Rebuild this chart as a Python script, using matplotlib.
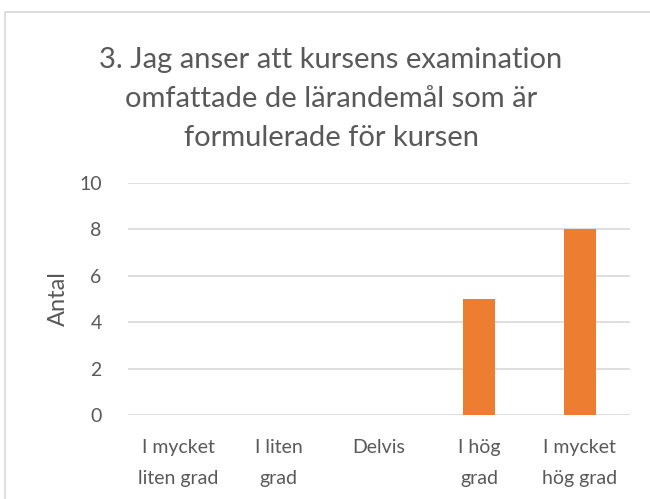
import matplotlib
matplotlib.use("Agg")
import matplotlib.pyplot as plt
from matplotlib.patches import Rectangle

categories = ["I mycket\nliten grad", "I liten\ngrad", "Delvis", "I hög\ngrad", "I mycket\nhög grad"]
values = [0, 0, 0, 5, 8]
yticks = [0, 2, 4, 6, 8, 10]
title = "3. Jag anser att kursens examination\nomfattade de lärandemål som är\nformulerade för kursen"
ylabel = "Antal"

plt.rcParams['font.family'] = ['Lato', 'DejaVu Sans']
txt = '#595959'

W, H = 650, 499
fig = plt.figure(figsize=(W/100, H/100), dpi=100)
fig.patch.set_facecolor('white')

# chart border
fig.add_artist(Rectangle((5/W, -0.1), 1.2, 1 - 12/H + 0.1, transform=fig.transFigure,
                         fill=False, edgecolor='#D9D9D9', linewidth=1.2))

ax = fig.add_axes([128/W, 1 - 415/H, (630-128)/W, (415-183)/H])
x = list(range(len(categories)))
ax.bar(x, values, width=0.32, color='#ED7D31', zorder=3)
ax.set_xlim(-0.5, len(categories) - 0.5)
ax.set_ylim(0, 10)
ax.set_yticks(yticks)
ax.set_yticklabels([str(t) for t in yticks], fontsize=14, color=txt)
ax.set_xticks(x)
ax.set_xticklabels(categories, fontsize=14, color=txt, linespacing=2.0)
ax.tick_params(axis='both', length=0)
ax.tick_params(axis='y', pad=19)
ax.tick_params(axis='x', pad=17)
ax.grid(axis='y', color='#D9D9D9', linewidth=1.2, zorder=0)
for s in ax.spines.values():
    s.set_visible(False)
ax.set_ylabel(ylabel, fontsize=17, color=txt, labelpad=7)

fig.text(331/W, 1 - 99/H, title, ha='center', va='center', fontsize=21,
         color=txt, linespacing=1.62)

fig.savefig("out.png", dpi=100)
